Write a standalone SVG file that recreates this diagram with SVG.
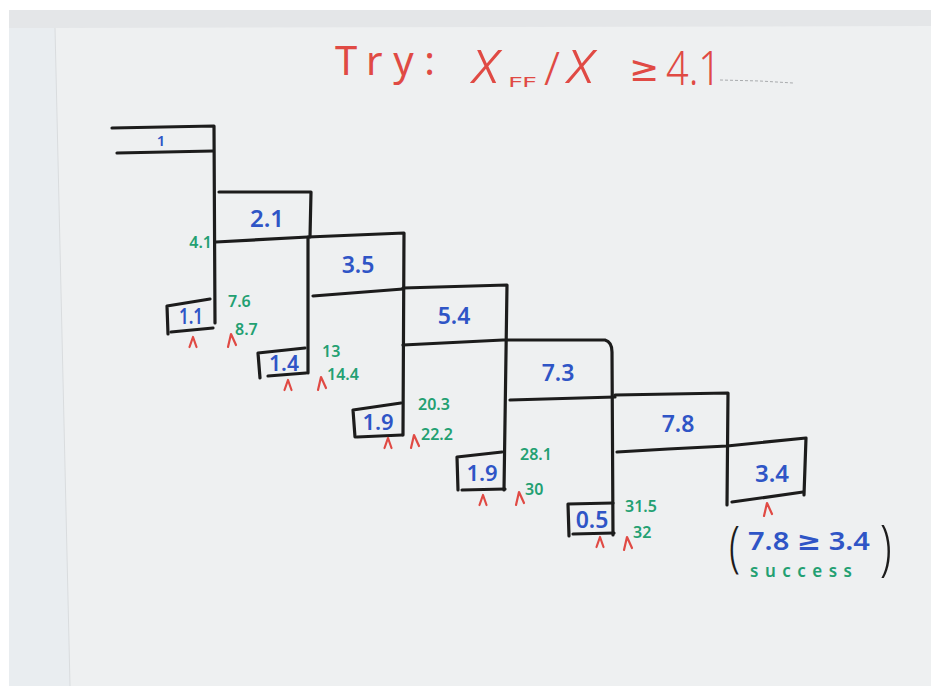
<svg xmlns="http://www.w3.org/2000/svg" width="937" height="687" viewBox="0 0 937 687">
<defs>
<style>
.ln{fill:none;stroke:#1c1c1c;stroke-width:3.2;stroke-linecap:round;stroke-linejoin:round}
.bl{font-family:"Noto Sans","DejaVu Sans",sans-serif;fill:#2f55c6;text-anchor:middle;font-weight:600}
.gr{font-family:"Noto Sans","DejaVu Sans",sans-serif;fill:#23a072;font-size:16px;font-weight:600}
.rd{font-family:"Noto Sans","DejaVu Sans",sans-serif;fill:#e04a44;font-weight:400}
.car{fill:none;stroke:#e04a44;stroke-width:2.2;stroke-linecap:round;stroke-linejoin:round}
.par{font-family:"Noto Sans","DejaVu Sans",sans-serif;fill:#1c1c1c;font-weight:300}
</style>
<path id="c" d="M-3.5,10 L0,0 L3.5,10"/>
<path id="cl" d="M-4,13 L-1,0 L4,11"/>
</defs>
<rect width="937" height="687" fill="#ffffff"/>
<rect x="9" y="10" width="922" height="676" fill="#e9edf0"/>
<rect x="9" y="10" width="922" height="18" fill="#e4e6e8"/>
<polygon points="55,28 931,26 931,686 70,686" fill="#eef0f1"/>
<line x1="55" y1="28" x2="70" y2="686" stroke="#d9dcde" stroke-width="1"/>

<g id="title">
<text class="rd" x="335" y="75" font-size="40" textLength="100" lengthAdjust="spacing">Try:</text>
<text class="rd" x="472" y="83" font-size="62" font-style="italic" style="font-weight:300">x</text>
<text class="rd" x="508" y="87" font-size="14" textLength="28" lengthAdjust="spacingAndGlyphs">FF</text>
<text class="rd" x="544" y="85" font-size="46" style="font-weight:300">/</text>
<text class="rd" x="567" y="83" font-size="62" font-style="italic" style="font-weight:300">x</text>
<text class="rd" x="629" y="81" font-size="36">≥</text>
<text class="rd" x="666" y="85" font-size="48" textLength="55" lengthAdjust="spacingAndGlyphs" style="font-weight:300">4.1</text>
<path d="M720,80 L760,81 L793,83" fill="none" stroke="#8a8d90" stroke-width="1" stroke-dasharray="3 2" opacity="0.7"/>
</g>

<g id="connectors">
<path class="ln" d="M112,128 L214,126 L215,323"/>
<path class="ln" d="M117,153 L213,151"/>
<path class="ln" d="M219,192 L311,192 L310,237"/>
<path class="ln" d="M216,242 L308,237 L404,233 L403,435"/>
<path class="ln" d="M308,237 L308,373"/>
<path class="ln" d="M313,296 L403,289"/>
<path class="ln" d="M403,288 L507,285 L504,490"/>
<path class="ln" d="M403,345 L503,340 L605,340 Q612,342 612,352 L613,535"/>
<path class="ln" d="M510,400 L615,397"/>
<path class="ln" d="M615,395 L728,393 L727,505"/>
<path class="ln" d="M617,452 L668,449 L727,446 L806,438 L804,495"/>
</g>

<g id="n1"><text class="bl" x="161" y="146" font-size="15">1</text></g>
<g id="n2_1"><text class="bl" x="267" y="227" font-size="24">2.1</text></g>
<g id="n3_5"><text class="bl" x="358" y="273" font-size="23">3.5</text></g>
<g id="n5_4"><text class="bl" x="454" y="324" font-size="23">5.4</text></g>
<g id="n7_3"><text class="bl" x="558" y="381" font-size="23">7.3</text></g>
<g id="n7_8"><text class="bl" x="678" y="432" font-size="23">7.8</text></g>
<g id="n3_4">
<path class="ln" d="M732,502 L803,492"/>
<text class="bl" x="772" y="482" font-size="24">3.4</text>
</g>

<g id="b1_1">
<path class="ln" d="M210,299 L167,306 L168,334"/>
<path class="ln" d="M171,332 L213,328"/>
<text class="bl" x="191" y="324" font-size="21" textLength="24" lengthAdjust="spacingAndGlyphs">1.1</text>
</g>
<g id="b1_4">
<path class="ln" d="M305,348 L258,353 L260,378"/>
<path class="ln" d="M268,376 L306,373"/>
<text class="bl" x="284" y="371" font-size="21">1.4</text>
</g>
<g id="b1_9a">
<path class="ln" d="M401,403 L353,410 L355,437"/>
<path class="ln" d="M357,437 L402,435"/>
<text class="bl" x="378" y="430" font-size="22">1.9</text>
</g>
<g id="b1_9b">
<path class="ln" d="M502,452 L457,457 L458,490"/>
<path class="ln" d="M462,490 L505,489"/>
<text class="bl" x="482" y="481" font-size="22">1.9</text>
</g>
<g id="b0_5">
<path class="ln" d="M613,503 L568,504 L569,536"/>
<path class="ln" d="M573,534 L614,533"/>
<text class="bl" x="592" y="528" font-size="23">0.5</text>
</g>

<g id="green-labels">
<text class="gr" x="212" y="248" text-anchor="end">4.1</text>
<text class="gr" x="228" y="307">7.6</text>
<text class="gr" x="235" y="335">8.7</text>
<text class="gr" x="322" y="357">13</text>
<text class="gr" x="327" y="380">14.4</text>
<text class="gr" x="418" y="410">20.3</text>
<text class="gr" x="421" y="440">22.2</text>
<text class="gr" x="520" y="460">28.1</text>
<text class="gr" x="525" y="495">30</text>
<text class="gr" x="625" y="512">31.5</text>
<text class="gr" x="633" y="538">32</text>
</g>

<g id="pointers" class="car">
<use href="#c" x="193" y="337"/>
<use href="#cl" x="232" y="334"/>
<use href="#c" x="288" y="380"/>
<use href="#cl" x="322" y="377"/>
<use href="#c" x="388" y="438"/>
<use href="#cl" x="415" y="435"/>
<use href="#c" x="483" y="495"/>
<use href="#cl" x="520" y="492"/>
<use href="#c" x="600" y="537"/>
<use href="#cl" x="628" y="537"/>
<use href="#cl" x="768" y="503"/>
</g>

<g id="result">
<text class="par" transform="translate(729,566) scale(0.7,1)" font-size="56">(</text>
<text class="par" transform="translate(880,568) scale(0.7,1)" font-size="60">)</text>
<text class="bl" x="809" y="550" font-size="26" textLength="122" lengthAdjust="spacingAndGlyphs">7.8 ≥ 3.4</text>
<text class="gr" x="750" y="577" textLength="102" lengthAdjust="spacing" style="font-size:17px">success</text>
</g>
</svg>
